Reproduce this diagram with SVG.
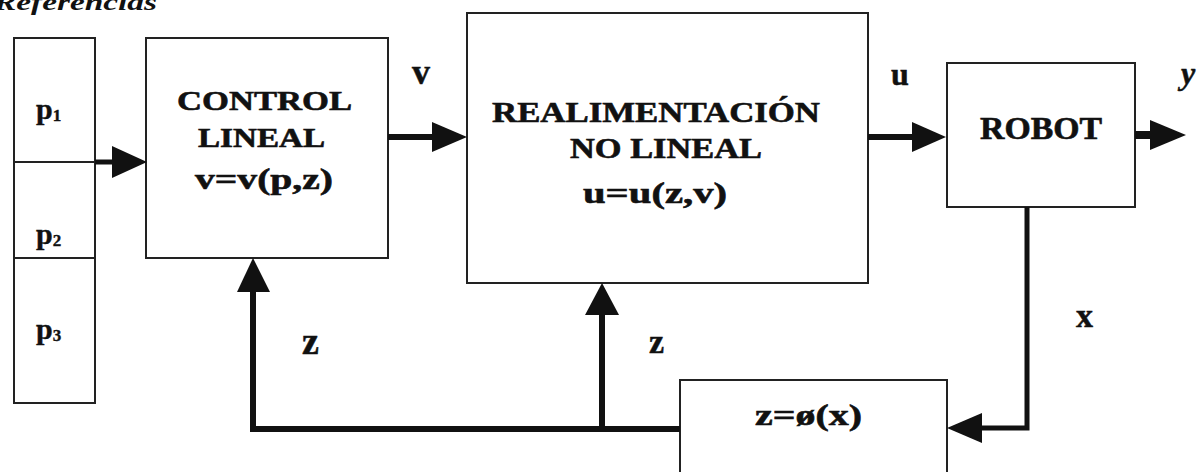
<svg xmlns="http://www.w3.org/2000/svg" width="1198" height="472" viewBox="0 0 1198 472">
<style>
.box{fill:#fff;stroke:#222;stroke-width:2}
.ln{fill:none;stroke:#111;stroke-width:6}
.thin{fill:none;stroke:#222;stroke-width:2}
.hd{fill:#111}
text{font-family:"Liberation Serif","Times New Roman",serif;font-weight:bold;fill:#111}
.t{font-size:28px;stroke:#111;stroke-width:0.6}
.lbl{font-size:34px;stroke:#111;stroke-width:0.5}
.p{font-size:30px;stroke:#111;stroke-width:0.4}
</style>
<rect width="1198" height="472" fill="#fff"/>
<text x="-6" y="10" style="font-size:24px;font-style:italic" textLength="163" lengthAdjust="spacingAndGlyphs">Referencias</text>

<g id="refs">
<rect class="box" x="14" y="38" width="81" height="365"/>
<line class="thin" x1="14" y1="258" x2="95" y2="258"/>
<text class="p" x="36" y="119">p<tspan style="font-size:17px" dy="2">1</tspan></text>
<text class="p" x="36" y="244">p<tspan style="font-size:17px" dy="2">2</tspan></text>
<text class="p" x="36" y="339">p<tspan style="font-size:17px" dy="2">3</tspan></text>
</g>

<g id="control">
<rect class="box" x="146" y="38" width="242" height="220"/>
<text class="t" x="177" y="110" textLength="175" lengthAdjust="spacingAndGlyphs">CONTROL</text>
<text class="t" x="198" y="147" textLength="127" lengthAdjust="spacingAndGlyphs">LINEAL</text>
<text class="t" x="195" y="189" style="font-size:30px" textLength="138" lengthAdjust="spacingAndGlyphs">v=v(p,z)</text>
</g>

<g id="realim">
<rect class="box" x="467" y="13" width="401" height="270"/>
<text class="t" x="492" y="122" style="font-size:29px" textLength="328" lengthAdjust="spacingAndGlyphs">REALIMENTACIÓN</text>
<text class="t" x="570" y="158" style="font-size:29px" textLength="192" lengthAdjust="spacingAndGlyphs">NO LINEAL</text>
<text class="t" x="583" y="203" style="font-size:30px" textLength="144" lengthAdjust="spacingAndGlyphs">u=u(z,v)</text>
</g>

<g id="robot">
<rect class="box" x="947" y="63" width="188" height="144"/>
<text class="t" x="980" y="139" style="font-size:31px" textLength="122" lengthAdjust="spacingAndGlyphs">ROBOT</text>
</g>

<g id="phi">
<rect class="box" x="680" y="380" width="267" height="110"/>
<text class="t" x="755" y="425" style="font-size:30px" textLength="107" lengthAdjust="spacingAndGlyphs">z=ø(x)</text>
</g>

<g id="connectors">
<line class="thin" x1="14" y1="162" x2="95" y2="162"/>
<line class="ln" x1="95" y1="162" x2="120" y2="162" style="stroke-width:5"/>
<polygon class="hd" points="112,146 147,162 112,178"/>

<line class="ln" x1="388" y1="137" x2="440" y2="137"/>
<polygon class="hd" points="432,122 467,137 432,152"/>

<line class="ln" x1="868" y1="137" x2="920" y2="137"/>
<polygon class="hd" points="912,122 946,137 912,152"/>

<line class="ln" x1="1135" y1="135" x2="1155" y2="135" style="stroke-width:8"/>
<polygon class="hd" points="1150,120 1186,135 1150,150"/>

<polyline class="ln" points="1027,207 1027,428 975,428" style="stroke-width:5"/>
<polygon class="hd" points="982,413 947,428 982,443"/>

<polyline class="ln" points="680,429 253,429 253,285"/>
<polygon class="hd" points="237,292 253,258 270,292"/>
<line class="ln" x1="602" y1="429" x2="602" y2="305"/>
<polygon class="hd" points="585,315 602,283 619,315"/>
</g>

<g id="labels">
<text class="lbl" x="412" y="84" style="font-size:36px">v</text>
<text class="lbl" x="891" y="85" style="font-size:32px">u</text>
<text class="lbl" x="1181" y="84" style="font-size:32px;font-style:italic">y</text>
<text class="lbl" x="1076" y="327">x</text>
<text class="lbl" x="302" y="354" style="font-size:38px">z</text>
<text class="lbl" x="649" y="353">z</text>
</g>
</svg>
